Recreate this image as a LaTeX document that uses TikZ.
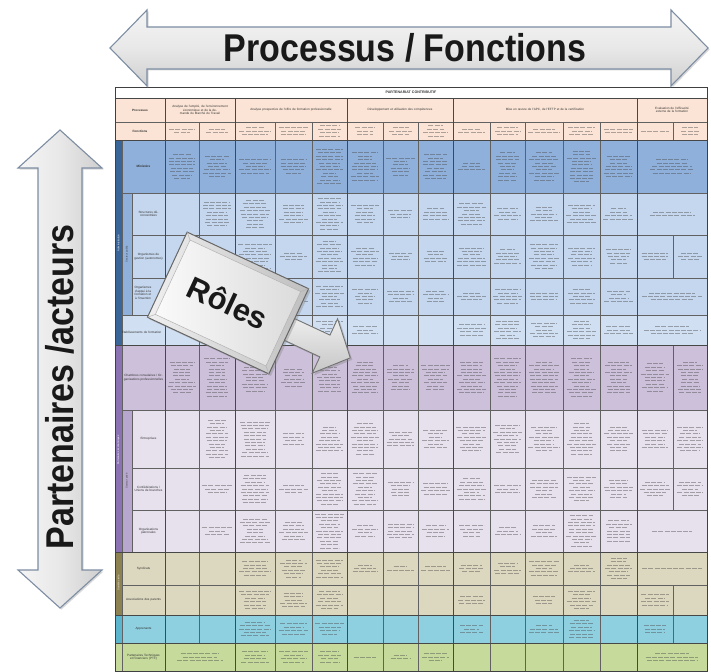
\documentclass[tikz,border=0pt]{standalone}
\usepackage{fontspec}
\setmainfont{Liberation Sans}
\usetikzlibrary{shadows}
\definecolor{hdr}{HTML}{FBE4D5}
\definecolor{bdark}{HTML}{3A6598}
\definecolor{bmid}{HTML}{8FB0DA}
\definecolor{blight}{HTML}{C5D7EE}
\definecolor{blighter}{HTML}{D0DFF2}
\definecolor{pdark}{HTML}{8B73B3}
\definecolor{pmid}{HTML}{CCC0DA}
\definecolor{psub}{HTML}{B7A7CF}
\definecolor{plight}{HTML}{E7E1EE}
\definecolor{odark}{HTML}{8C8150}
\definecolor{olight}{HTML}{DCD8BF}
\definecolor{cyanrow}{HTML}{8ECFE0}
\definecolor{cyandark}{HTML}{5BB5CC}
\definecolor{grrow}{HTML}{C6DA9C}
\definecolor{arrowline}{HTML}{7D8DA3}
\newcommand\tfont{\fontsize{3.1}{3.5}\selectfont}
\def\colx{{165,199,235,275,312,347,383,418,453,490,525,563,600,637,673,707}}
\newcommand\tlines[4]{%
  \pgfmathsetmacro\tlw{#2-#1-5}%
  \pgfmathsetmacro\tlm{(#1+#2)/2}%
  \foreach \k in {1,...,#4}{%
    \pgfmathsetmacro\tly{#3+(\k-(#4+1)/2)*3.4}%
    \pgfmathsetmacro\tlf{0.45+0.5*rnd}%
    \draw[txt] (\tlm-\tlf*\tlw/2,\tly) -- (\tlm+\tlf*\tlw/2,\tly);
  }}
\newcommand\tabrow[3]{%
  \pgfmathsetmacro\yc{(#1+#2)/2}%
  \foreach \colI/\spanI/\numI in {#3}{%
    \pgfmathtruncatemacro\ca{\colI-1}%
    \pgfmathtruncatemacro\cb{\colI-1+\spanI}%
    \pgfmathsetmacro\xa{\colx[\ca]}%
    \pgfmathsetmacro\xb{\colx[\cb]}%
    \draw[gridl] (\xa,#1) rectangle (\xb,#2);
    \ifnum\numI>0 \tlines{\xa}{\xb}{\yc}{\numI}\fi
  }}
\begin{document}
\begin{tikzpicture}[x=1pt,y=-1pt,
  txt/.style={line width=0.95pt, draw=black!70, opacity=0.45, dash pattern=on 5pt off 1.2pt},
  gridl/.style={draw=black!62, line width=0.4pt},
  procl/.style={draw=black!72, line width=0.7pt},
  lbl/.style={font=\tfont, align=center, inner sep=0.5pt, text=black!80},
  vlbl/.style={font=\fontsize{2.6}{3}\selectfont, rotate=90, inner sep=0pt, text=black!75},
  bigtxt/.style={font=\fontsize{34}{36}\selectfont\bfseries, text=black!90, inner sep=0pt},
  bigarrow/.style={draw=arrowline, line width=1.1pt, drop shadow={opacity=0.3, shadow xshift=1.5pt, shadow yshift=-1.5pt}}]
\pgfmathsetseed{7}
\fill[white] (0,0) rectangle (711,671);
\useasboundingbox (0,0) rectangle (711,671);

% ---------- table backgrounds ----------
\fill[white] (115,87) rectangle (707,98);
\fill[hdr] (115,98) rectangle (707,140);
\fill[bmid] (115,140) rectangle (707,193);
\fill[blight] (115,193) rectangle (707,315);
\fill[blighter] (115,315) rectangle (707,345);
\fill[pmid] (115,345) rectangle (707,410);
\fill[plight] (115,410) rectangle (707,552);
\fill[olight] (115,552) rectangle (707,615);
\fill[cyanrow] (115,615) rectangle (707,643);
\fill[grrow] (115,643) rectangle (707,671);
\fill[bdark] (115,140) rectangle (122,345);
\fill[bmid] (122,193) rectangle (132,315);
\fill[pdark] (115,345) rectangle (122,552);
\fill[psub] (122,410) rectangle (132,552);
\fill[odark] (115,552) rectangle (122,615);
\fill[cyandark] (115,615) rectangle (122,643);

% ---------- header ----------
\draw[gridl] (115,87) rectangle (707,98);
\node[lbl, font=\fontsize{3.6}{4}\selectfont\bfseries] (ttl) at (411,92.5) {PARTENARIAT CONTRIBUTIF};
\draw[gridl] (115,98) rectangle (165,122);
\draw[gridl] (115,122) rectangle (165,140);
\node[lbl] (hproc) at (140,110) {\bfseries Processus};
\node[lbl] (hfonc) at (140,131) {\bfseries Fonctions};
\tabrow{98}{122}{1/2/0,3/3/0,6/3/0,9/5/0,14/2/0}
\node[lbl, text width=62] (p1) at (200,110) {Analyse de l'emploi, de l'environnement économique et de la demande du Marché du Travail};
\node[lbl, text width=100] (p2) at (291,110) {Analyse prospective de l'offre de formation professionnelle};
\node[lbl, text width=92] (p3) at (400,110) {Développement et utilisation des compétences};
\node[lbl, text width=170] (p4) at (545,110) {Mise en œuvre de l'APC, de l'EFTP et de la certification};
\node[lbl, text width=62] (p5) at (672,110) {Evaluation de l'efficacité externe de la formation};
\tabrow{122}{140}{1/1/2,2/1/2,3/1/3,4/1/3,5/1/4,6/1/3,7/1/3,8/1/4,9/1/2,10/1/3,11/1/2,12/1/3,13/1/2,14/1/1,15/1/3}

% ---------- label cells ----------
\draw[gridl] (122,140) rectangle (165,193);
\draw[gridl] (122,193) rectangle (132,315);
\draw[gridl] (132,193) rectangle (165,235);
\draw[gridl] (132,235) rectangle (165,278);
\draw[gridl] (132,278) rectangle (165,315);
\draw[gridl] (122,315) rectangle (165,345);
\draw[gridl] (122,345) rectangle (165,410);
\draw[gridl] (122,410) rectangle (132,552);
\draw[gridl] (132,410) rectangle (165,468);
\draw[gridl] (132,468) rectangle (165,510);
\draw[gridl] (132,510) rectangle (165,552);
\draw[gridl] (122,552) rectangle (165,585);
\draw[gridl] (122,585) rectangle (165,615);
\draw[gridl] (122,615) rectangle (165,643);
\draw[gridl] (122,643) rectangle (165,671);

\node[lbl, text width=38] (lmin) at (143.5,166.5) {\bfseries Ministère};
\node[lbl, text width=30] (lstr) at (148.5,214) {Structures déconcentrées};
\node[lbl, text width=30] (lorg) at (148.5,256.5) {Organismes de gestion (autonomes)};
\node[lbl, text width=22] (lapp) at (143,293) {Organismes d'appui à la formation et à l'insertion};
\node[lbl, text width=40] (leta) at (141.5,332) {Etablissements de formation};
\node[lbl, text width=40] (lcha) at (143.5,377.5) {Chambres consulaires / Organisations professionnelles};
\node[lbl, text width=30] (lent) at (148.5,439) {Entreprises};
\node[lbl, text width=30] (lcon) at (148.5,489) {Confédérations / Unions de branches};
\node[lbl, text width=30] (lpat) at (148.5,531) {Organisations patronales};
\node[lbl, text width=40] (lsyn) at (143.5,568.5) {Syndicats};
\node[lbl, text width=40] (lass) at (143.5,600) {Associations des parents};
\node[lbl, text width=40] (lapr) at (143.5,629) {Apprenants};
\node[lbl, text width=40] (lptf) at (143.5,657) {Partenaires Techniques et Financiers (PTF)};
\node[vlbl, text=white] (gadm) at (118.5,243) {Administration};
\node[vlbl] (gpub) at (127,254) {Secteur public};
\node[vlbl, text=white] (geco) at (118.5,450) {Partenaires économiques};
\node[vlbl] (gpri) at (127,481) {Secteur privé};
\node[vlbl, text=white] (gsoc) at (118.5,583) {Société civile};

% ---------- body rows ----------
\tabrow{140}{193}{1/1/8,2/1/7,3/1/5,4/1/5,5/1/11,6/1/9,7/1/6,8/1/8,9/1/3,10/1/9,11/1/9,12/1/10,13/1/7,14/2/5}
\tabrow{193}{235}{1/1/0,2/1/8,3/1/9,4/1/6,5/1/10,6/1/6,7/1/3,8/1/4,9/1/7,10/1/4,11/1/5,12/1/6,13/1/4,14/2/2}
\tabrow{235}{278}{1/1/0,2/1/0,3/1/8,4/1/3,5/1/10,6/1/6,7/1/3,8/1/4,9/1/6,10/1/5,11/1/8,12/1/6,13/1/5,14/1/3,15/1/3}
\tabrow{278}{315}{1/1/0,2/1/0,3/1/4,4/1/6,5/1/7,6/1/5,7/1/4,8/1/4,9/1/3,10/1/5,11/1/3,12/1/5,13/1/4,14/2/3}
\tabrow{315}{345}{1/1/0,2/1/3,3/1/3,4/1/4,5/1/6,6/1/3,7/1/0,8/1/0,9/1/4,10/1/6,11/1/5,12/1/6,13/1/3,14/2/3}
\tabrow{345}{410}{1/1/10,2/1/12,3/1/9,4/1/6,5/1/9,6/1/10,7/1/8,8/1/8,9/1/10,10/1/12,11/1/10,12/1/12,13/1/10,14/1/9,15/1/10}
\tabrow{410}{468}{1/1/0,2/1/12,3/1/11,4/1/4,5/1/8,6/1/10,7/1/5,8/1/6,9/1/8,10/1/9,11/1/8,12/1/10,13/1/8,14/1/6,15/1/8}
\tabrow{468}{510}{1/1/0,2/1/3,3/1/9,4/1/3,5/1/10,6/1/10,7/1/5,8/1/4,9/1/7,10/1/3,11/1/6,12/1/8,13/1/6,14/1/5,15/1/5}
\tabrow{510}{552}{1/1/0,2/1/3,3/1/8,4/1/6,5/1/11,6/1/4,7/1/5,8/1/4,9/1/4,10/1/3,11/1/4,12/1/10,13/1/7,14/2/1}
\tabrow{552}{585}{1/1/0,2/1/0,3/1/5,4/1/6,5/1/6,6/1/3,7/1/2,8/1/2,9/1/3,10/1/4,11/1/5,12/1/3,13/1/7,14/2/1}
\tabrow{585}{615}{1/1/0,2/1/0,3/1/6,4/1/5,5/1/6,6/1/0,7/1/0,8/1/0,9/1/3,10/1/0,11/1/3,12/1/6,13/1/0,14/1/4,15/1/0}
\tabrow{615}{643}{1/1/0,2/1/0,3/1/5,4/1/4,5/1/4,6/1/0,7/1/0,8/1/0,9/1/3,10/1/0,11/1/3,12/1/6,13/1/0,14/1/3,15/1/0}
\tabrow{643}{671}{1/2/3,3/1/4,4/1/4,5/1/4,6/1/1,7/1/2,8/1/3,9/1/0,10/1/0,11/1/0,12/1/0,13/1/0,14/2/3}

% ---------- strong lines ----------
\foreach \xx in {165,235,347,453,637} \draw[procl] (\xx,98) -- (\xx,671);
\foreach \yy in {98,140,345,552,615,643} \draw[procl] (115,\yy) -- (707,\yy);
\draw[draw=black!75, line width=0.8pt] (115,87) rectangle (707,671);

% ---------- top double arrow ----------
\path[bigarrow, top color=gray!8, bottom color=gray!38, middle color=gray!18]
  (110,48) -- (147,10) -- (147,27) -- (671,27) -- (671,10) -- (708,48)
  -- (671,86) -- (671,69) -- (147,69) -- (147,86) -- cycle;
\node[bigtxt] (ptitle) at (405,48) {\scalebox{1}[1.14]{Processus / Fonctions}};

% ---------- left double arrow ----------
\path[bigarrow, left color=gray!8, right color=gray!38, middle color=gray!18]
  (60,130) -- (102,168) -- (82,168) -- (82,570) -- (102,570) -- (60,608)
  -- (18,570) -- (38,570) -- (38,168) -- (18,168) -- cycle;
\node[bigtxt, rotate=90] (pside) at (60,387) {\scalebox{1}[1.14]{Partenaires /acteurs}};

% ---------- Roles callout ----------
\begin{scope}[shift={(228,303)}, rotate=-25]
  \path[draw=black!55, line width=0.9pt, drop shadow={opacity=0.35, shadow xshift=2pt, shadow yshift=-2pt},
        top color=gray!10, bottom color=gray!45]
    (50,-14) -- (106,-14) -- (106,-32) -- (134,-2) -- (106,28) -- (106,10) -- (50,10) -- cycle;
  \path[draw=black!60, line width=1pt, drop shadow={opacity=0.35, shadow xshift=2pt, shadow yshift=-2pt},
        left color=gray!12, right color=gray!50] (-67,-47) rectangle (67,47);
  \path[left color=gray!4, right color=gray!28] (-61,-41) rectangle (61,41);
  \draw[gray!60, line width=0.5pt] (-67,-47) -- (-61,-41) (67,-47) -- (61,-41)
     (67,47) -- (61,41) (-67,47) -- (-61,41) (-61,-41) rectangle (61,41);
\end{scope}
\node[bigtxt, font=\fontsize{31}{33}\selectfont\bfseries, rotate=-25] (roles) at (228,303) {Rôles};
\end{tikzpicture}
\end{document}
